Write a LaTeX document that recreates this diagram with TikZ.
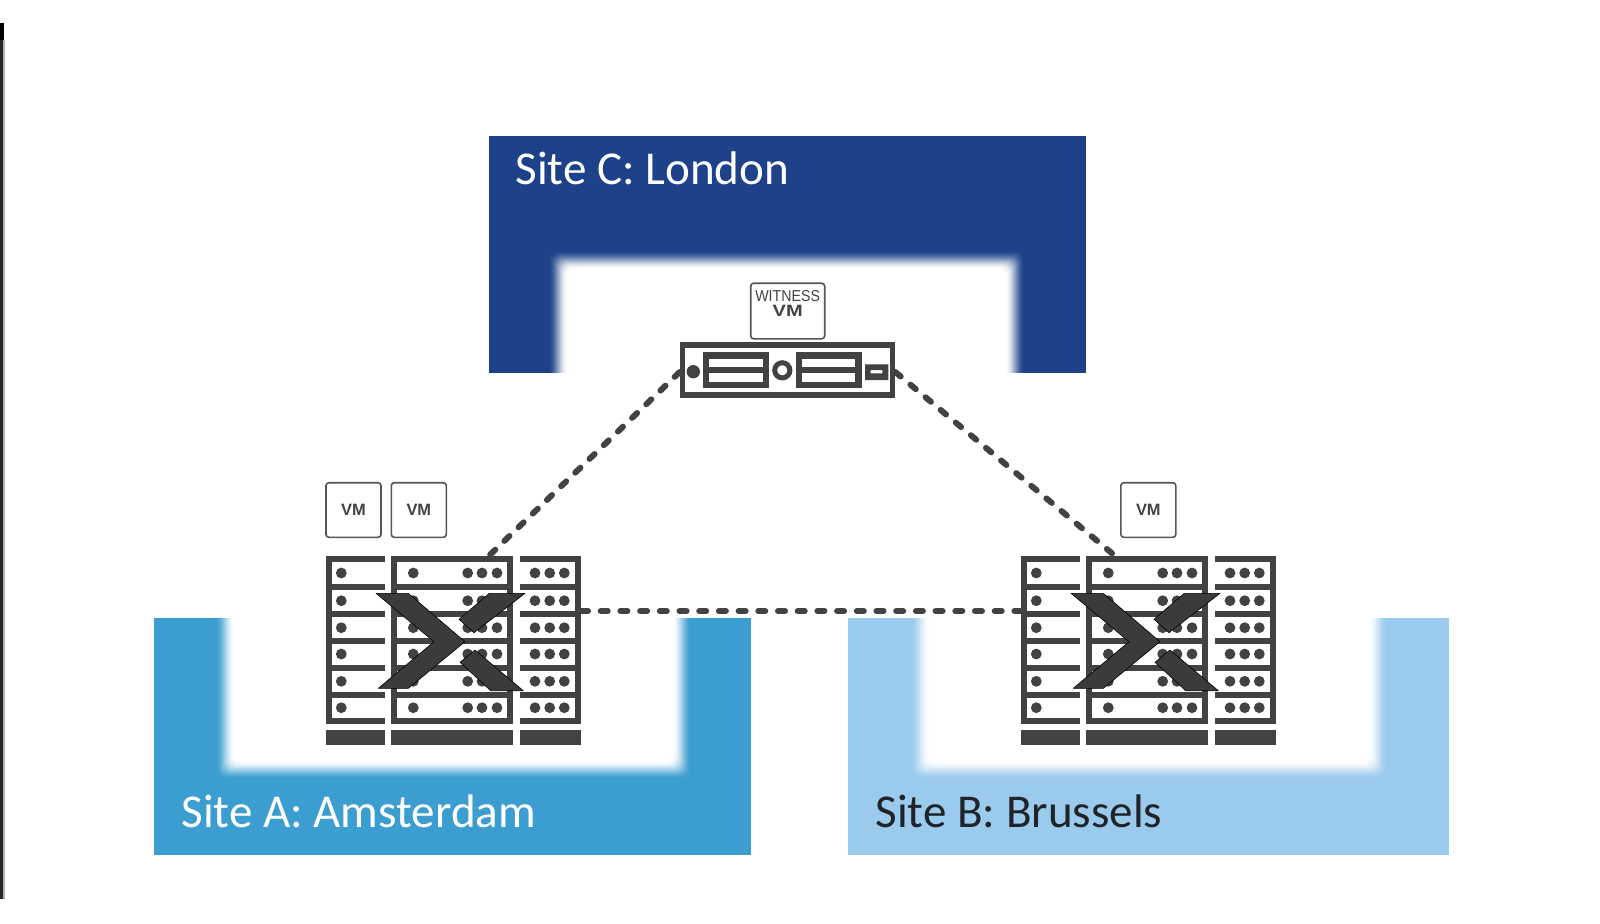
\documentclass[tikz,border=0pt]{standalone}
\usepackage{fontspec}
\usepackage{graphicx}
\setmainfont{Carlito}
\newfontfamily\arialfont{Liberation Sans}
\definecolor{siteA}{HTML}{3C9DD0}
\definecolor{siteB}{HTML}{9ACAEC}
\definecolor{siteC}{HTML}{1D4289}
\definecolor{hw}{HTML}{414243}
\definecolor{bruss}{HTML}{20242A}
% colour, outer x1 y1 x2 y2, inner x1 x2, open-side y, closed-side y
\newcommand{\softzone}[9]{%
  \fill[#1] (#2,#3) rectangle (#4,#5);
  \pgfmathsetmacro\sgn{(#9>#8)?1:-1}%
  \pgfmathsetmacro\oy{#8-\sgn*2}%
  \pgfmathsetmacro\wy{#8-\sgn*5}%
  \foreach \i in {0,...,18}{%
    \pgfmathsetmacro\d{\i-9}%
    \pgfmathsetmacro\t{(\i+1)/19}%
    \pgfmathsetmacro\m{100*(1-\t*\t*(3-2*\t))}%
    \pgfmathsetmacro\cy{#9-\sgn*\d}%
    \fill[#1!\m!white] (#6+\d,\oy) {[rounded corners=4pt] -- (#6+\d,\cy) -- (#7-\d,\cy)} -- (#7-\d,\oy) -- cycle;
  }
  \fill[white] (#2-1,\wy) rectangle (#4+1,#8);}
\tikzset{
  sitelabel/.style={anchor=base west,inner sep=0pt,font=\fontsize{23.55}{27}\selectfont},
  vmbox/.style={draw=hw!90,line width=0.8pt,rounded corners=1.5pt,fill=white,inner sep=0pt,
    minimum width=27.5pt,minimum height=27.3pt,text=hw,font=\arialfont\bfseries\fontsize{8.2}{9}\selectfont},
  link/.style={draw=hw,line width=3pt,line cap=round,dash pattern=on 3.5pt off 6.35pt},
  hwbar/.style={draw=hw,line width=3pt},
  hwblock/.style={fill=hw},
  hwdot/.style={fill=hw},
  logo/.style={fill=hw!90!black,draw=black,line width=0.3pt,line join=round},
  serverbox/.style={draw=hw,line width=2.8pt,minimum width=105pt,minimum height=25.2pt,inner sep=0pt,fill=white},
  rackarea/.style={inner sep=0pt,outer sep=0pt,minimum width=127.5pt,minimum height=94pt},
  nutanixrack/.pic={
    \foreach \y in {559.2,586.7,613.8,640.7,667.5,694.5,721.2}{
      \draw[hwbar] (326,\y) -- (385,\y);
      \draw[hwbar] (391,\y) -- (512.7,\y);
      \draw[hwbar] (520,\y) -- (581,\y);
    }
    \fill[hwblock] (326,556.2) rectangle (332,724.2);
    \fill[hwblock] (391,556.2) rectangle (397,724.2);
    \fill[hwblock] (506.7,556.2) rectangle (512.7,724.2);
    \fill[hwblock] (575,556.2) rectangle (581,724.2);
    \fill[hwblock] (326,730) rectangle (385,745);
    \fill[hwblock] (391,730) rectangle (512.7,745);
    \fill[hwblock] (520,730) rectangle (581,745);
    \foreach \y in {573,600.7,627.7,654,681.3,707.7}{
      \fill[hwdot] (341.3,\y) circle[radius=2.7pt];
      \fill[hwdot] (413.3,\y) circle[radius=2.7pt];
      \fill[hwdot] (467.7,\y) circle[radius=2.7pt];
      \fill[hwdot] (482,\y) circle[radius=2.7pt];
      \fill[hwdot] (497,\y) circle[radius=2.7pt];
      \fill[hwdot] (535,\y) circle[radius=2.7pt];
      \fill[hwdot] (549.7,\y) circle[radius=2.7pt];
      \fill[hwdot] (564.3,\y) circle[radius=2.7pt];
    }
    \draw[logo] (376,593.3) -- (408.3,593.3) -- (465,641.7) -- (408.3,688.3) -- (378.3,688.3) -- (434,641.7) -- cycle;
    \draw[logo] (489.3,593.3) -- (525,593.3) -- (474,632.7) -- (459,619.3) -- cycle;
    \draw[logo] (475,650) -- (523.3,690.7) -- (490.7,690.7) -- (460,662.3) -- cycle;
  }
}
\begin{document}
\begin{tikzpicture}[x=0.5pt,y=-0.5pt]
\useasboundingbox (0,0) rectangle (1600,923);
\fill[black] (0,23) rectangle (4,40);
\fill[gray!60] (3,40) rectangle (4.5,899);
\fill[black!85] (0,40) rectangle (3,899);
\softzone{siteC}{489}{136}{1086}{373}{558}{1015}{373}{260}
\softzone{siteA}{154}{617.5}{751}{855}{225}{682}{617.5}{770}
\softzone{siteB}{848}{617.5}{1449}{855}{920}{1378}{617.5}{770}
\node[sitelabel,text=white] (labelC) at (515,184.3) {Site C: London};
\node[sitelabel,text=white] (labelA) at (181,827) {Site A: Amsterdam};
\node[sitelabel,text=bruss] (labelB) at (875,827.5) {Site B: Brussels};
\node[rackarea] (rackA) at (453.5,651) {};
\node[rackarea] (rackB) at (1148.5,651) {};
\node[serverbox] (server) at (787.5,370) {};
\coordinate (upA) at (488,556.7);
\coordinate (upB) at (1112,553.3);
\coordinate (linkA) at (581,611);
\coordinate (linkB) at (1021,611);
\coordinate (srvL) at ([yshift=-1pt]server.west);
\coordinate (srvR) at ([yshift=-1pt]server.east);
\draw[link] (srvL) -- (upA);
\draw[link] (srvR) -- (upB);
\draw[link] (linkA) -- (linkB);
\node[serverbox] at (787.5,370) {};
\fill[hwdot] (693.3,371.7) circle[radius=3.35pt];
\draw[hw,line width=3.4pt] (706,355.5) rectangle (766,385);
\draw[hw,line width=3.4pt] (706,370) -- (766,370);
\draw[hw,line width=3.4pt] (799,355.5) rectangle (858.5,385);
\draw[hw,line width=3.4pt] (799,370) -- (858.5,370);
\draw[hw,line width=2.5pt] (782.3,370.3) circle[radius=3.8pt];
\fill[hw,even odd rule] (865,364.3) rectangle (888.3,380) (870.7,370) rectangle (882.3,373.3);
\node[vmbox] (vm1) at (353.5,510) {VM};
\node[vmbox] (vm2) at (418.8,510) {VM};
\node[vmbox] (vm3) at (1148.3,510) {VM};
\node[vmbox,minimum width=37pt,minimum height=27.8pt] (wit) at (787.7,311) {};
\node[inner sep=0pt,text=hw,font=\arialfont\fontsize{7.9}{9}\selectfont] (witt) at (787.7,296) {\scalebox{.9}[1]{WITNESS}};
\node[inner sep=0pt,text=hw,font=\arialfont\bfseries\fontsize{8.2}{9}\selectfont] (witv) at (787.7,310.8) {\scalebox{1.22}[1]{VM}};
\pic at (0,0) {nutanixrack};
\pic at (695,0) {nutanixrack};
\end{tikzpicture}
\end{document}
